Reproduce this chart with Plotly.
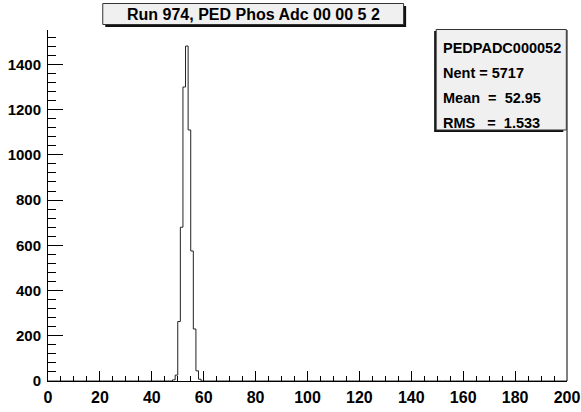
import plotly.graph_objects as go

# ---- data ----
adc_values = [48, 49, 50, 51, 52, 53, 54, 55, 56, 57, 58]
counts = [5, 26, 263, 680, 1300, 1481, 1110, 575, 230, 45, 8]
n_bins = 200
x_min, x_max = 0, 200
title_text = "Run 974, PED Phos Adc 00 00 5 2"
stats_name = "PEDPADC000052"
stats_lines = ["Nent = 5717", "Mean  =  52.95", "RMS   =  1.533"]

full = [0] * n_bins
for v, c in zip(adc_values, counts):
    full[v] = c
edges = list(range(x_min, x_max + 1))
ys = full + [full[-1]]

W, H = 581, 412
L, R, T, B = 48.3, 566.7, 30.0, 381.0
PW, PH = R - L, B - T


def px(x):
    return (x - L) / PW


def py(y):
    return (B - y) / PH


FONT = "Liberation Sans, Arial, sans-serif"

fig = go.Figure()
fig.add_trace(go.Scatter(
    x=edges, y=ys, mode="lines", line_shape="hv",
    line=dict(color="#222222", width=1), hoverinfo="skip", showlegend=False))

shapes = []
# right frame line
shapes.append(dict(type="line", xref="paper", yref="paper", x0=1, x1=1, y0=0, y1=1,
                   line=dict(color="black", width=1)))
# title box shadow + box
shapes.append(dict(type="rect", xref="paper", yref="paper",
                   x0=px(105.5), x1=px(406), y0=py(27), y1=py(6),
                   fillcolor="#111111", line=dict(width=0)))
shapes.append(dict(type="rect", xref="paper", yref="paper",
                   x0=px(103), x1=px(403.5), y0=py(24.5), y1=py(3.5),
                   fillcolor="#f0f0f0", line=dict(color="#333333", width=1)))
# stats box shadow + box
shapes.append(dict(type="rect", xref="paper", yref="paper",
                   x0=px(434), x1=px(563), y0=py(132), y1=py(31),
                   fillcolor="#111111", line=dict(width=0)))
shapes.append(dict(type="rect", xref="paper", yref="paper",
                   x0=px(436), x1=px(566), y0=py(130), y1=py(29.5),
                   fillcolor="#f0f0f0", line=dict(color="#333333", width=1)))

annotations = []
annotations.append(dict(text=title_text, xref="paper", yref="paper",
                        x=px(253.5), y=py(14.5), showarrow=False,
                        xanchor="center", yanchor="middle",
                        font=dict(family=FONT, size=16, color="black", weight="bold")))
stat_texts = [stats_name] + stats_lines
stat_ys = [47.5, 72.5, 98, 122.5]
for t, yy in zip(stat_texts, stat_ys):
    annotations.append(dict(text=t.replace(" ", "&nbsp;"), xref="paper", yref="paper",
                            x=px(441), y=py(yy), showarrow=False,
                            xanchor="left", yanchor="middle",
                            font=dict(family=FONT, size=14.5, color="black", weight="bold")))

fig.update_layout(
    width=W, height=H,
    margin=dict(l=L, r=W - R, t=T, b=H - B, pad=0, autoexpand=False),
    paper_bgcolor="white", plot_bgcolor="white",
    shapes=shapes, annotations=annotations,
    showlegend=False,
    xaxis=dict(range=[x_min, x_max], showgrid=False, zeroline=False, automargin=False,
               showline=True, linecolor="black", linewidth=1,
               ticks="inside", ticklen=10, tickcolor="black", tickwidth=1,
               tick0=0, dtick=20,
               minor=dict(ticks="inside", ticklen=5, dtick=5, tickcolor="black", tickwidth=1),
               tickfont=dict(family=FONT, size=16, color="black", weight="bold"),
               ticklabelstandoff=2),
    yaxis=dict(range=[0, 1552], showgrid=False, zeroline=False, automargin=False,
               showline=True, linecolor="black", linewidth=1,
               ticks="inside", ticklen=15, tickcolor="black", tickwidth=1,
               tick0=0, dtick=200,
               minor=dict(ticks="inside", ticklen=8, dtick=40, tickcolor="black", tickwidth=1),
               tickfont=dict(family=FONT, size=15, color="black", weight="bold"),
               ticklabelstandoff=3),
)

fig.write_html("out.html")
